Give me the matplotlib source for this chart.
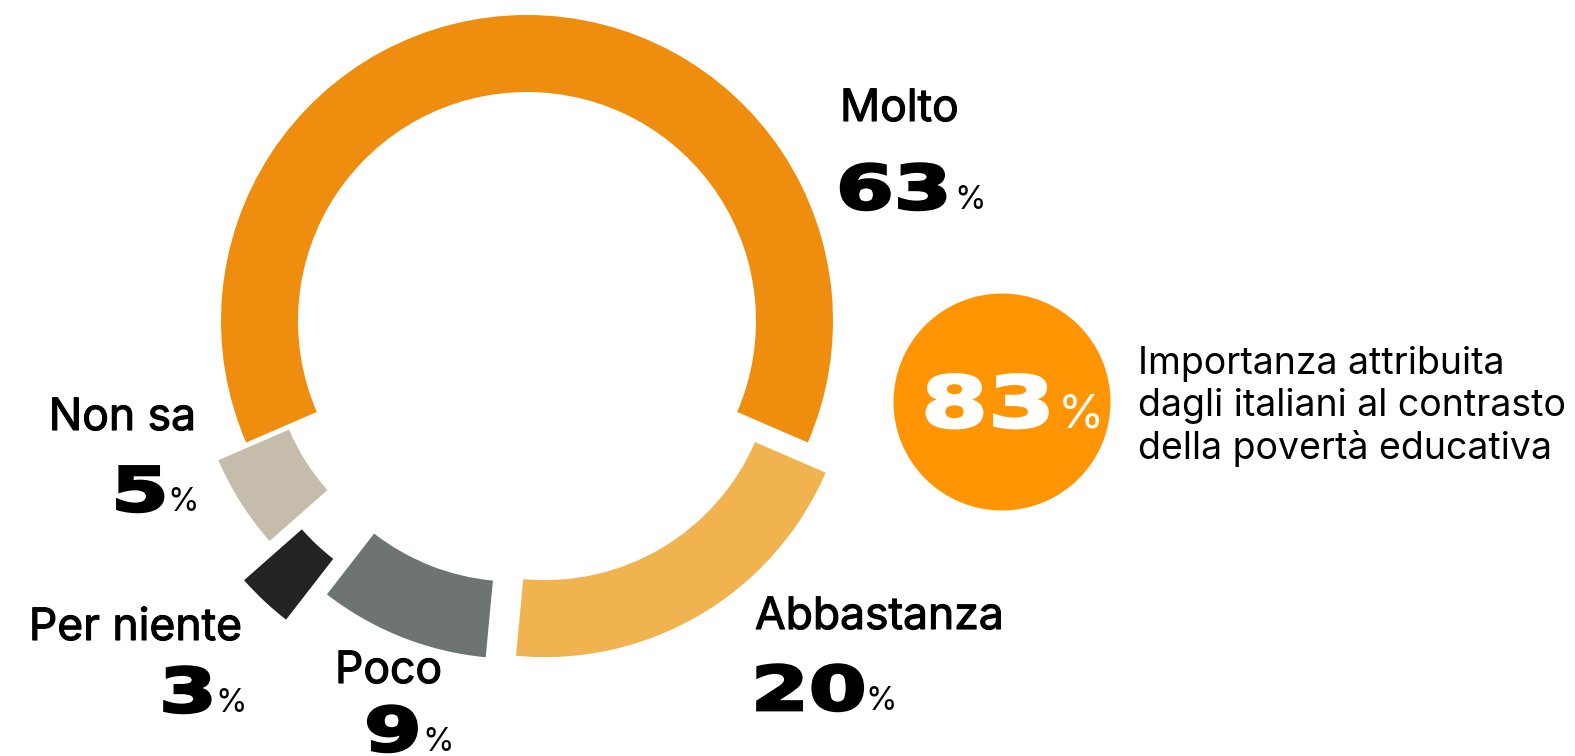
import matplotlib
matplotlib.use("Agg")
import matplotlib.pyplot as plt
from matplotlib.patheffects import AbstractPathEffect, withStroke
from matplotlib.transforms import Affine2D

categories = ["Molto", "Abbastanza", "Poco", "Per niente", "Non sa"]
values = [63, 20, 9, 3, 5]
colors = ["#EF8D0E", "#F0B350", "#6E7471", "#232323", "#C6BCAB"]
explode = [0, 35, 34, 78, 33]   # pixels, pie radius is in pixels too
total_share = 83
note_lines = ["Importanza attribuita", "dagli italiani al contrasto", "della povertà educativa"]

W, H = 1575, 756
fig = plt.figure(figsize=(W / 100, H / 100), dpi=100)
ax = fig.add_axes([0, 0, 1, 1])

label_font = "Inter"
num_font = "DejaVu Sans"


class WideHeavy(AbstractPathEffect):
    """stretch glyphs sideways and fatten them a bit (extended black look)"""

    def __init__(self, sx=1.36, lw=2.0):
        super().__init__()
        self.sx = sx
        self.lw = lw

    def draw_path(self, renderer, gc, tpath, affine, rgbFace=None):
        gc0 = renderer.new_gc()
        gc0.copy_properties(gc)
        gc0.set_linewidth(self.lw)
        gc0.set_foreground(rgbFace)
        gc0.set_joinstyle("miter")
        renderer.draw_path(gc0, tpath, Affine2D().scale(self.sx, 1) + affine, rgbFace)
        gc0.restore()


# donut, Molto centred at the top
start = 90 + values[0] / 100 * 360 / 2
ax.pie(values, colors=colors, explode=explode, startangle=start, counterclock=False,
       radius=306, center=(527, H - 321), wedgeprops=dict(width=77, linewidth=0))

ax.set_xlim(0, W)
ax.set_ylim(0, H)
ax.set_aspect("equal")
ax.axis("off")

label_fx = [withStroke(linewidth=0.8, foreground="black")]


def value_label(x, y, px, value, size=44, color="black", pct_size=23):
    # big number + small percent sign, y is the baseline in image pixels
    ax.text(x, H - y, str(value), fontsize=size, fontweight="bold", family=num_font,
            color=color, ha="left", va="baseline", path_effects=[WideHeavy()])
    ax.text(px, H - y, "%", fontsize=pct_size, family=label_font, color=color,
            ha="left", va="baseline")


# (label x, label baseline, align, number x, percent x, number baseline)
layout = {
    "Molto": (840, 121, "left", 836, 954, 209),
    "Abbastanza": (755, 629, "left", 751, 865, 710),
    "Poco": (335, 683, "left", 364, 422, 751),
    "Per niente": (242, 640, "right", 159, 215, 712),
    "Non sa": (196, 430, "right", 111, 167, 511),
}

for cat, val in zip(categories, values):
    lx, ly, ha, nx, px, ny = layout[cat]
    ax.text(lx, H - ly, cat, fontsize=32, family=label_font, ha=ha, va="baseline",
            path_effects=label_fx)
    value_label(nx, ny, px, val)

# highlight circle
circ = plt.Circle((1002, H - 402), 108.5, color="#FF9503", linewidth=0)
ax.add_patch(circ)
value_label(921, 427, 1058, total_share, size=51, color="white", pct_size=34)

for i, line in enumerate(note_lines):
    ax.text(1138, H - (374 + i * 42.5), line, fontsize=27, family=label_font,
            ha="left", va="baseline")

fig.savefig("out.png", dpi=100)
